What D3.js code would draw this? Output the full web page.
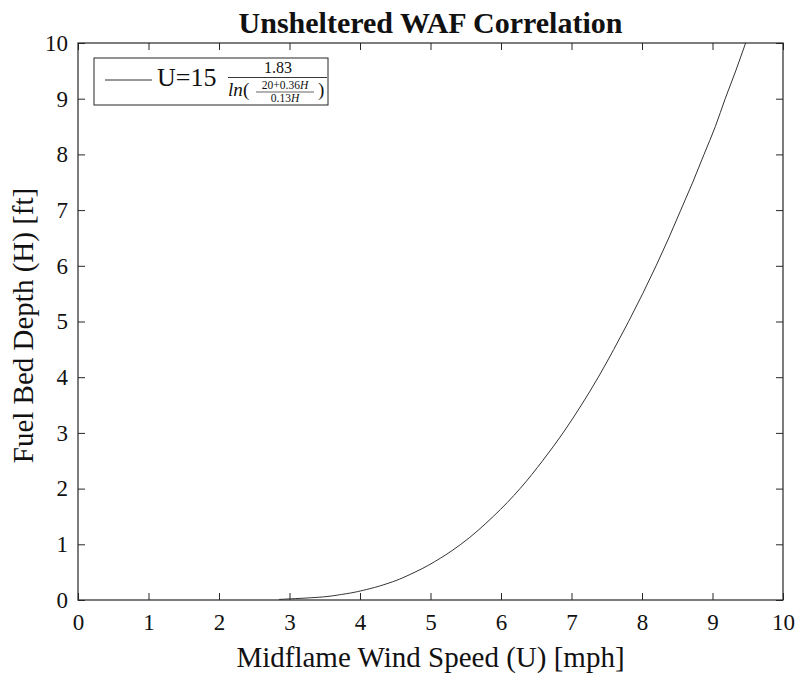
<!DOCTYPE html>
<html>
<head>
<meta charset="utf-8">
<script src="https://cdn.jsdelivr.net/npm/d3@7"></script>
<style>
  html, body { margin: 0; padding: 0; background: #fff; }
  svg text { font-family: "Liberation Serif", "DejaVu Serif", serif; fill: #111; }
</style>
</head>
<body>
<svg id="chart" width="800" height="675"></svg>
<script>
// Data: fuel bed depth H [ft] vs midflame wind speed U [mph]
const depthH = [0.01, 0.05, 0.1, 0.2, 0.3, 0.5, 0.75, 1, 1.5, 2, 2.5, 3, 3.5, 4, 4.5, 5, 5.5, 6, 6.5, 7, 7.5, 8, 8.5, 9, 9.5, 10];
const windU  = [2.85, 3.42, 3.74, 4.13, 4.40, 4.78, 5.14, 5.43, 5.89, 6.27, 6.59, 6.88, 7.14, 7.38, 7.60, 7.81, 8.01, 8.20, 8.38, 8.55, 8.72, 8.88, 9.04, 9.18, 9.33, 9.47];
const xTicks = [0, 1, 2, 3, 4, 5, 6, 7, 8, 9, 10];
const yTicks = [0, 1, 2, 3, 4, 5, 6, 7, 8, 9, 10];
const titleText = "Unsheltered WAF Correlation";
const xLabel = "Midflame Wind Speed (U) [mph]";
const yLabel = "Fuel Bed Depth (H) [ft]";

const svg = d3.select("#chart");
const m = { left: 78, right: 17, top: 43, bottom: 75 };
const W = 800, H = 675;
const x = d3.scaleLinear().domain([0, 10]).range([m.left, W - m.right]);
const y = d3.scaleLinear().domain([0, 10]).range([H - m.bottom, m.top]);

svg.append("rect").attr("width", W).attr("height", H).attr("fill", "#fff");

svg.append("defs").append("clipPath").attr("id", "clip")
  .append("rect").attr("x", x(0)).attr("y", y(10)).attr("width", x(10) - x(0)).attr("height", y(0) - y(10));

const tickLen = 7;
const axStyle = g => {
  g.selectAll(".domain").remove();
  g.selectAll(".tick line").attr("stroke", "#262626").attr("stroke-width", 1);
  g.selectAll(".tick text").style("font-size", "23px").attr("fill", "#222");
};

// Bottom axis
svg.append("g").attr("transform", `translate(0,${y(0)})`)
  .call(d3.axisBottom(x).tickValues(xTicks).tickFormat(d3.format("d")).tickSizeInner(-tickLen).tickSizeOuter(0).tickPadding(14))
  .call(axStyle);
// Top axis (ticks only)
svg.append("g").attr("transform", `translate(0,${y(10)})`)
  .call(d3.axisTop(x).tickValues(xTicks).tickFormat("").tickSizeInner(-tickLen).tickSizeOuter(0))
  .call(axStyle);
// Left axis
svg.append("g").attr("transform", `translate(${x(0)},0)`)
  .call(d3.axisLeft(y).tickValues(yTicks).tickFormat(d3.format("d")).tickSizeInner(-tickLen).tickSizeOuter(0).tickPadding(10))
  .call(axStyle);
// Right axis
svg.append("g").attr("transform", `translate(${x(10)},0)`)
  .call(d3.axisRight(y).tickValues(yTicks).tickFormat("").tickSizeInner(-tickLen).tickSizeOuter(0))
  .call(axStyle);

// Box
svg.append("rect").attr("x", x(0)).attr("y", y(10)).attr("width", x(10) - x(0)).attr("height", y(0) - y(10))
  .attr("fill", "none").attr("stroke", "#262626").attr("stroke-width", 1.2);

// Curve
const pts = depthH.map((h, i) => [windU[i], h]);
svg.append("path").datum(pts)
  .attr("clip-path", "url(#clip)")
  .attr("fill", "none").attr("stroke", "#333").attr("stroke-width", 1)
  .attr("d", d3.line().x(d => x(d[0])).y(d => y(d[1])).curve(d3.curveMonotoneY));

// Title
svg.append("text").attr("x", (x(0) + x(10)) / 2).attr("y", 33).attr("text-anchor", "middle")
  .style("font-size", "30px").style("font-weight", "bold").text(titleText);
// X label
svg.append("text").attr("x", (x(0) + x(10)) / 2).attr("y", 667).attr("text-anchor", "middle")
  .style("font-size", "29px").attr("fill", "#222").text(xLabel);
// Y label
svg.append("text").attr("transform", `translate(33,${(y(0) + y(10)) / 2 + 4}) rotate(-90)`).attr("text-anchor", "middle")
  .style("font-size", "29px").attr("fill", "#222").text(yLabel);

// Legend
const lg = svg.append("g");
lg.append("rect").attr("x", 94).attr("y", 58).attr("width", 234).attr("height", 47)
  .attr("fill", "#fff").attr("stroke", "#262626").attr("stroke-width", 1);
lg.append("line").attr("x1", 105).attr("x2", 152).attr("y1", 80).attr("y2", 80)
  .attr("stroke", "#333").attr("stroke-width", 1);
lg.append("text").attr("x", 157).attr("y", 86).style("font-size", "26px").text("U=15");
// fraction
lg.append("text").attr("x", 278).attr("y", 73).attr("text-anchor", "middle").style("font-size", "16px").text("1.83");
lg.append("line").attr("x1", 228).attr("x2", 327).attr("y1", 77.5).attr("y2", 77.5).attr("stroke", "#222").attr("stroke-width", 0.9);
lg.append("text").attr("x", 228).attr("y", 96).style("font-size", "19px").style("font-style", "italic").text("ln");
lg.append("text").attr("x", 243).attr("y", 96).style("font-size", "19px").text("(");
lg.append("text").attr("x", 318).attr("y", 96).style("font-size", "19px").text(")");
lg.append("text").attr("x", 285).attr("y", 89).attr("text-anchor", "middle").style("font-size", "11.5px")
  .html('20+0.36<tspan font-style="italic">H</tspan>');
lg.append("line").attr("x1", 256).attr("x2", 314).attr("y1", 92).attr("y2", 92).attr("stroke", "#222").attr("stroke-width", 0.7);
lg.append("text").attr("x", 285).attr("y", 102).attr("text-anchor", "middle").style("font-size", "11.5px")
  .html('0.13<tspan font-style="italic">H</tspan>');
</script>
</body>
</html>
